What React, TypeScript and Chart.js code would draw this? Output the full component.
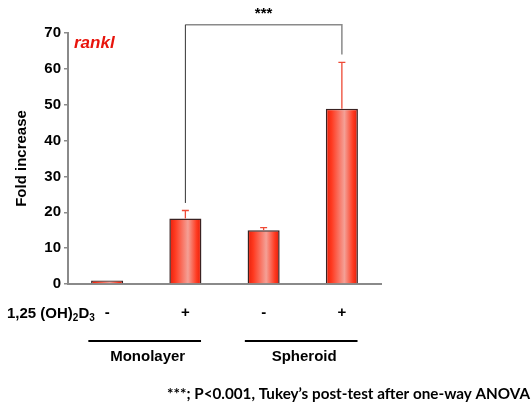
import React, { useEffect, useRef } from "react";
import { Chart, registerables } from "chart.js";
Chart.register(...registerables);

const categories = ["-", "+", "-", "+"];
const foldIncrease = [1.0, 18.3, 15.0, 48.9];
const errorUpper = [0, 2.2, 0.7, 12.9];
const groupLabels = ["Monolayer", "Spheroid"];
const groupSpans = [[0, 1], [2, 3]];
const yMin = 0;
const yMax = 70;
const yStep = 10;
const geneLabel = "rankl";
const yTitle = "Fold increase";
const treatmentLabel = ["1,25 (OH)", "2", "D", "3"];
const sigLabel = "***";
const sigFrom = 1;
const sigTo = 3;
const sigTopValue = 72.3;
const sigEndValues = [22.6, 64];
const footnote = "***; P<0.001, Tukey\u2019s post-test after one-way ANOVA";

const FONT = '"Liberation Sans", Arimo, Helvetica, Arial, sans-serif';
const BAR_PCT = 0.41;

const overlay = {
  id: "overlay",
  afterDatasetsDraw(chart: any) {
    const { ctx, scales } = chart;
    const x = scales.x, y = scales.y;
    ctx.save();
    ctx.strokeStyle = "#ee4a36";
    ctx.lineWidth = 1.3;
    foldIncrease.forEach((v, i) => {
      const e = errorUpper[i];
      if (!e) return;
      const px = x.getPixelForValue(i);
      const y0 = y.getPixelForValue(v);
      const y1 = y.getPixelForValue(v + e);
      ctx.beginPath();
      ctx.moveTo(px, y0);
      ctx.lineTo(px, y1);
      ctx.moveTo(px - 3.5, y1);
      ctx.lineTo(px + 3.5, y1);
      ctx.stroke();
    });
    ctx.restore();
  },
  afterDraw(chart: any) {
    const { ctx, scales } = chart;
    const x = scales.x, y = scales.y;
    ctx.save();
    const xl = x.getPixelForValue(sigFrom);
    const xr = x.getPixelForValue(sigTo);
    const yt = y.getPixelForValue(sigTopValue);
    ctx.lineWidth = 1.5;
    ctx.strokeStyle = "#8a8a8a";
    ctx.beginPath();
    ctx.moveTo(xl, yt);
    ctx.lineTo(xr, yt);
    ctx.lineTo(xr, y.getPixelForValue(sigEndValues[1]));
    ctx.stroke();
    ctx.strokeStyle = "#333";
    ctx.lineWidth = 1;
    ctx.beginPath();
    ctx.moveTo(xl, yt);
    ctx.lineTo(xl, y.getPixelForValue(sigEndValues[0]));
    ctx.stroke();
    ctx.fillStyle = "#000";
    ctx.font = `bold 15px ${FONT}`;
    ctx.textAlign = "center";
    ctx.textBaseline = "middle";
    ctx.fillText(sigLabel, (xl + xr) / 2, 14);

    ctx.fillStyle = "#e8140c";
    ctx.font = `italic bold 17px ${FONT}`;
    ctx.textAlign = "left";
    ctx.textBaseline = "alphabetic";
    ctx.fillText(geneLabel, 74, 48);

    ctx.fillStyle = "#000";
    let cx = 7;
    const base = 318;
    treatmentLabel.forEach((t, i) => {
      const sub = i % 2 === 1;
      ctx.font = sub ? `bold 10px ${FONT}` : `bold 15px ${FONT}`;
      ctx.fillText(t, cx, sub ? base + 3 : base);
      cx += ctx.measureText(t).width;
    });

    const cw = x.width / categories.length;
    groupSpans.forEach((sp, gi) => {
      const a = x.getPixelForValue(sp[0]) - cw * 0.24;
      const b = x.getPixelForValue(sp[1]) + cw * 0.2;
      ctx.strokeStyle = "#000";
      ctx.lineWidth = 1.8;
      ctx.beginPath();
      ctx.moveTo(a, 341);
      ctx.lineTo(b, 341);
      ctx.stroke();
      ctx.font = `bold 15px ${FONT}`;
      ctx.textAlign = "center";
      ctx.textBaseline = "middle";
      ctx.fillText(groupLabels[gi], (a + b) / 2 + 3, 357);
    });

    ctx.textAlign = "left";
    ctx.textBaseline = "alphabetic";
    ctx.font = `bold 16px Lato, sans-serif`;
    const w = ctx.measureText(footnote).width;
    const size = (16 * 363) / w;
    ctx.font = `bold ${size.toFixed(2)}px Lato, sans-serif`;
    ctx.fillText(footnote, 167, 399);
    ctx.restore();
  },
};

export default function App() {
  const ref = useRef<HTMLCanvasElement>(null);
  useEffect(() => {
    document.body.style.margin = "0";
    const canvas = ref.current!;
    const chart = new Chart(canvas, {
      type: "bar",
      data: {
        labels: categories,
        datasets: [
          {
            data: foldIncrease,
            borderColor: "#3a2222",
            borderWidth: 1.5,
            categoryPercentage: 1,
            barPercentage: BAR_PCT,
            backgroundColor: (c: any) => {
              const ch = c.chart;
              if (!ch.chartArea || c.dataIndex === undefined) return "#f03020";
              const xs = ch.scales.x;
              const px = xs.getPixelForValue(c.dataIndex);
              const hw = (xs.width / categories.length) * BAR_PCT / 2;
              const g = ch.ctx.createLinearGradient(px - hw, 0, px + hw, 0);
              g.addColorStop(0, "#e61e0a");
              g.addColorStop(0.18, "#ff3a20");
              g.addColorStop(0.58, "#f4a096");
              g.addColorStop(0.85, "#ff3a20");
              g.addColorStop(1, "#e01c0a");
              return g;
            },
          } as any,
        ],
      },
      options: {
        animation: false,
        responsive: false,
        maintainAspectRatio: false,
        layout: { padding: { left: 0, right: 151, top: 33, bottom: 0 } },
        plugins: { legend: { display: false }, tooltip: { enabled: false } },
        scales: {
          x: {
            grid: { display: false, drawTicks: false },
            border: { color: "#8a8a8a", width: 2 },
            ticks: { color: "#000", font: { family: FONT, size: 15, weight: "bold" }, padding: 20 },
            afterFit: (s: any) => { s.height = 127; },
          },
          y: {
            min: yMin,
            max: yMax,
            ticks: { stepSize: yStep, color: "#000", font: { family: FONT, size: 15, weight: "bold" }, padding: 3 },
            grid: { display: true, drawOnChartArea: false, drawTicks: true, tickLength: 4, color: "#8a8a8a", lineWidth: 1.5 },
            border: { color: "#8a8a8a", width: 2 },
            title: {
              display: true,
              text: yTitle,
              color: "#000",
              font: { family: FONT, size: 15, weight: "bold" },
              padding: { top: 13, bottom: 0 },
            },
            afterFit: (s: any) => { s.width = 68; },
          },
        },
      } as any,
      plugins: [overlay],
    });
    return () => chart.destroy();
  }, []);
  return (
    <div style={{ width: 532, height: 411, background: "#fff" }}>
      <canvas ref={ref} width={532} height={411} style={{ display: "block" }} />
    </div>
  );
}
